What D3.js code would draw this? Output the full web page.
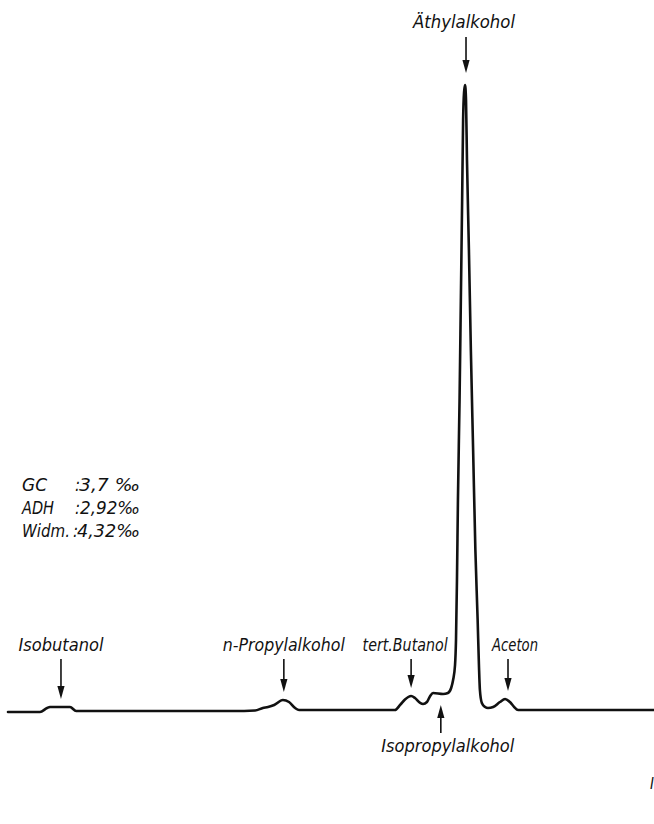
<!DOCTYPE html>
<html>
<head>
<meta charset="utf-8">
<script src="https://cdn.jsdelivr.net/npm/d3@7"></script>
<style>
  html, body { margin: 0; padding: 0; background: #fff; }
  svg { display: block; }
  text { font-family: "Liberation Sans Narrow", "DejaVu Sans Condensed", "Liberation Sans", sans-serif; font-style: italic; fill: #111; }
</style>
</head>
<body>
<svg id="chart" width="654" height="824"></svg>
<script>
// Retention time (min) and detector signal (% of ethanol peak)
const retentionTime = [
  0.00, 0.99, 1.21, 1.30, 1.92, 2.11, 3.87, 6.97, 7.65, 7.89, 8.05, 8.24, 8.51, 8.70, 8.89, 9.01,
  11.98, 12.14, 12.29, 12.48, 12.60, 12.76, 12.85, 12.97, 13.07, 13.16, 13.47, 13.62,
  13.72, 13.78, 13.84, 13.87, 13.90, 13.93, 13.98, 14.02, 14.06, 14.09, 14.12, 14.15,
  14.18, 14.21, 14.27, 14.33, 14.40, 14.47, 14.54, 14.58, 14.61, 14.67, 14.77, 14.86,
  15.02, 15.23, 15.39, 15.54, 15.67, 15.79, 18.33, 20.00
];
const signal = [
  0.00, 0.00, 0.64, 0.80, 0.80, 0.16, 0.16, 0.16, 0.24, 0.64, 0.80, 1.12, 1.91, 1.59, 0.64, 0.32,
  0.32, 1.12, 1.99, 2.55, 2.23, 1.44, 1.28, 1.59, 2.55, 3.03, 2.87, 3.03,
  3.83, 5.10, 7.50, 11.48, 21.05, 33.81, 49.76, 65.71, 81.66, 94.42, 98.88, 100.00,
  97.61, 88.04, 73.68, 57.74, 41.79, 25.84, 14.67, 7.50, 3.51, 1.44, 0.80, 0.64,
  0.80, 1.59, 2.07, 1.59, 0.80, 0.32, 0.32, 0.32
];

// Peak labels
const peakNames = ["Isobutanol", "n-Propylalkohol", "tert.Butanol", "Isopropylalkohol", "Äthylalkohol", "Aceton"];
const peakTimes = [1.64, 8.54, 12.48, 13.40, 14.18, 15.48];
const peakHeights = [0.80, 1.91, 2.55, 2.87, 100.00, 2.07];

// Result annotation
const methodNames = ["GC", "ADH", "Widm."];
const methodValues = ["3,7  ‰", "2,92‰", "4,32‰"];

const svg = d3.select("#chart");

const x = d3.scaleLinear().domain([0, 20]).range([8, 654]);
const y = d3.scaleLinear().domain([0, 100]).range([712, 85]);

const trace = retentionTime.map((t, i) => ({ t, s: signal[i] }));

svg.append("path")
  .datum(trace)
  .attr("fill", "none")
  .attr("stroke", "#111")
  .attr("stroke-width", 2.6)
  .attr("stroke-linejoin", "round")
  .attr("stroke-linecap", "round")
  .attr("d", d3.line().x(d => x(d.t)).y(d => y(d.s)).curve(d3.curveMonotoneX));

// layout of the labels (offsets from the arrow, widths, rows)
const labelLayout = {
  "Isobutanol":       { dx: 0,   width: 85,  row: "bottom", dir: "down" },
  "n-Propylalkohol":  { dx: 0,   width: 122, row: "bottom", dir: "down" },
  "tert.Butanol":     { dx: -6,  width: 85,  row: "bottom", dir: "down" },
  "Isopropylalkohol": { dx: 7,   width: 133, row: "below",  dir: "up" },
  "Äthylalkohol":     { dx: -2,  width: 102, row: "top",    dir: "down" },
  "Aceton":           { dx: 7,   width: 46,  row: "bottom", dir: "down" }
};
const rowBaseline = { bottom: 651, below: 752, top: 28 };

function arrow(g, ax, y0, y1) {
  // y0 = tail, y1 = tip
  const dirSign = y1 > y0 ? 1 : -1;
  const headLen = 13, headHalf = 3.6;
  g.append("line")
    .attr("x1", ax).attr("x2", ax)
    .attr("y1", y0).attr("y2", y1 - dirSign * (headLen - 2))
    .attr("stroke", "#111").attr("stroke-width", 1.6);
  g.append("path")
    .attr("d", `M${ax},${y1} L${ax - headHalf},${y1 - dirSign * headLen} L${ax + headHalf},${y1 - dirSign * headLen} Z`)
    .attr("fill", "#111");
}

const labels = svg.append("g");
peakNames.forEach((name, i) => {
  const L = labelLayout[name];
  const ax = x(peakTimes[i]);
  const g = labels.append("g");
  const base = rowBaseline[L.row];
  g.append("text")
    .attr("x", ax + L.dx)
    .attr("y", base)
    .attr("text-anchor", "middle")
    .attr("font-size", 17)
    .attr("textLength", L.width)
    .attr("lengthAdjust", "spacingAndGlyphs")
    .text(name);
  if (L.row === "bottom") {
    arrow(g, ax, base + 8, y(peakHeights[i]) - 8);
  } else if (L.row === "top") {
    arrow(g, ax, base + 9, y(peakHeights[i]) - 12);
  } else {
    arrow(g, ax, base - 19, y(peakHeights[i]) + 11);
  }
});

// Annotation block
const ann = svg.append("g");
const annBase = [491, 514, 537];
const colonX = [75, 75, 73];
const valueX = [79, 80, 77];
const valueW = [61, 60, 63];
const nameW = [25, 32, 48];
methodNames.forEach((m, i) => {
  ann.append("text").attr("x", 22).attr("y", annBase[i]).attr("font-size", 17)
    .attr("textLength", nameW[i]).attr("lengthAdjust", "spacingAndGlyphs").text(m);
  ann.append("text").attr("x", colonX[i]).attr("y", annBase[i]).attr("font-size", 17).text(":");
  ann.append("text").attr("x", valueX[i]).attr("y", annBase[i]).attr("font-size", 17)
    .attr("textLength", valueW[i]).attr("lengthAdjust", "spacingAndGlyphs").text(methodValues[i]);
});

// clipped mark at the right edge of the page
svg.append("text").attr("x", 650).attr("y", 789).attr("font-size", 15).text("I");
</script>
</body>
</html>
